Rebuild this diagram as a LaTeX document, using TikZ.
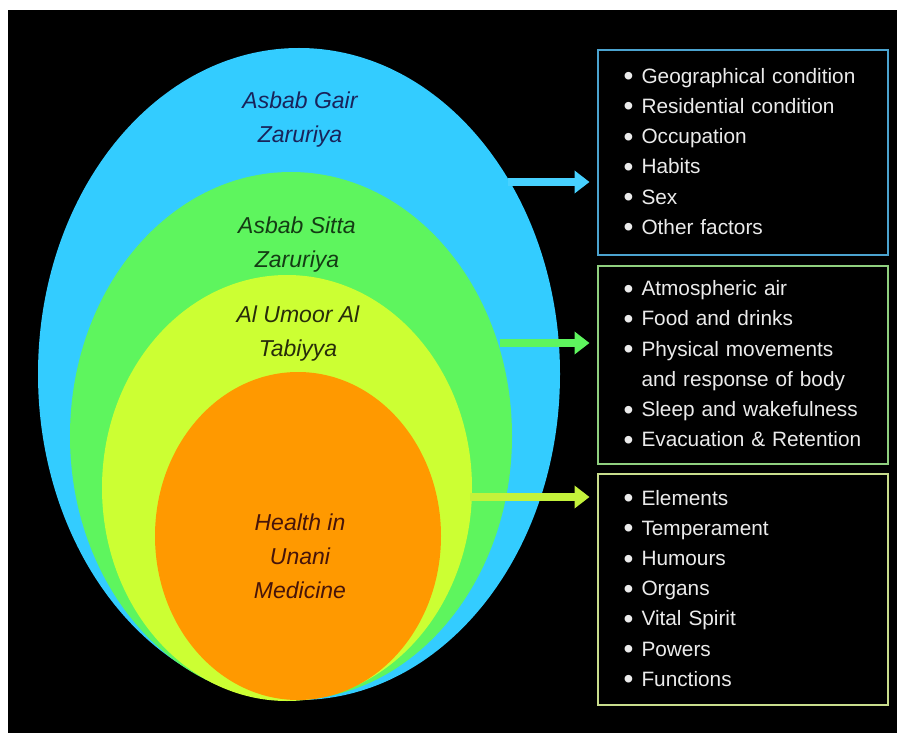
\documentclass[tikz,border=0pt]{standalone}
\usepackage{fontspec}
\setmainfont{Liberation Sans}
\usetikzlibrary{shapes.geometric,arrows.meta,positioning}

\definecolor{gairblue}{RGB}{51,204,255}
\definecolor{sittagreen}{RGB}{94,245,94}
\definecolor{umooryellow}{RGB}{204,255,51}
\definecolor{healthorange}{RGB}{255,153,0}
\definecolor{gairink}{RGB}{25,35,90}
\definecolor{sittaink}{RGB}{20,60,20}
\definecolor{umoorink}{RGB}{40,45,10}
\definecolor{healthink}{RGB}{70,20,10}
\definecolor{gairframe}{RGB}{75,163,207}
\definecolor{sittaframe}{RGB}{143,207,127}
\definecolor{umoorframe}{RGB}{200,220,140}
\definecolor{listwhite}{RGB}{235,235,235}

\newcommand{\itm}[1]{\makebox[18pt][l]{\raisebox{-0.12em}{\scalebox{1.35}{\textbullet}}}#1}

\begin{document}
\begin{tikzpicture}[x=1pt, y=-1pt,
  layer/.style = {ellipse, inner sep=0pt, draw=none},
  layertext/.style = {font=\fontsize{23}{34}\selectfont\itshape, align=center},
  listbox/.style = {draw, line width=2pt, fill=black, text=listwhite, text width=238pt,
    inner xsep=26pt, align=left, font=\fontsize{20.8}{30.2}\selectfont},
  linkarrow/.style = {line width=8pt, -{Triangle[length=15pt,width=22pt]}, shorten >=7pt}
  ]
  \useasboundingbox (0,0) rectangle (897,738);
  \fill[white] (0,0) rectangle (897,738);
  \fill[black] (8,10) rectangle (897,733);

  \node[layer, fill=gairblue, minimum width=522pt, minimum height=652pt] (gair) at (299,374) {};
  \node[layer, fill=sittagreen, minimum width=442pt, minimum height=528pt] (sitta) at (291,436) {};
  \node[layer, fill=umooryellow, minimum width=370pt, minimum height=426pt] (umoor) at (287,488) {};
  \node[layer, fill=healthorange, minimum width=286pt, minimum height=328pt] (health) at (298,536) {};

  \node[layertext, text=gairink] (gairlabel) at (300,120) {Asbab Gair\\Zaruriya};
  \node[layertext, text=sittaink] (sittalabel) at (297,245) {Asbab Sitta\\Zaruriya};
  \node[layertext, text=umoorink] (umoorlabel) at (298,334) {Al Umoor Al\\Tabiyya};
  \node[layertext, text=healthink] (healthlabel) at (300,556) {Health in\\Unani\\Medicine};

  \node[listbox, draw=gairframe, minimum height=205pt] (gairbox) at (742.5,152.5)
    {\itm{Geographical condition}\\\itm{Residential condition}\\\itm{Occupation}\\
     \itm{Habits}\\\itm{Sex}\\\itm{Other factors}};
  \node[listbox, draw=sittaframe, minimum height=198pt, below=9pt of gairbox] (sittabox)
    {\itm{Atmospheric air}\\\itm{Food and drinks}\\\itm{Physical movements}\\
     \hspace*{18pt}and response of body\\\itm{Sleep and wakefulness}\\\itm{Evacuation \& Retention}};
  \node[listbox, draw=umoorframe, minimum height=231pt, below=8pt of sittabox] (umoorbox)
    {\itm{Elements}\\\itm{Temperament}\\\itm{Humours}\\\itm{Organs}\\
     \itm{Vital Spirit}\\\itm{Powers}\\\itm{Functions}};

  \coordinate (gairstart) at (508,182);
  \coordinate (sittastart) at (500,343);
  \coordinate (umoorstart) at (470,497);

  \draw[linkarrow, gairblue!90!white] (gairstart) -- (gairstart -| gairbox.west);
  \draw[linkarrow, sittagreen] (sittastart) -- (sittastart -| sittabox.west);
  \draw[linkarrow, umooryellow!90!gray] (umoorstart) -- (umoorstart -| umoorbox.west);
\end{tikzpicture}
\end{document}
